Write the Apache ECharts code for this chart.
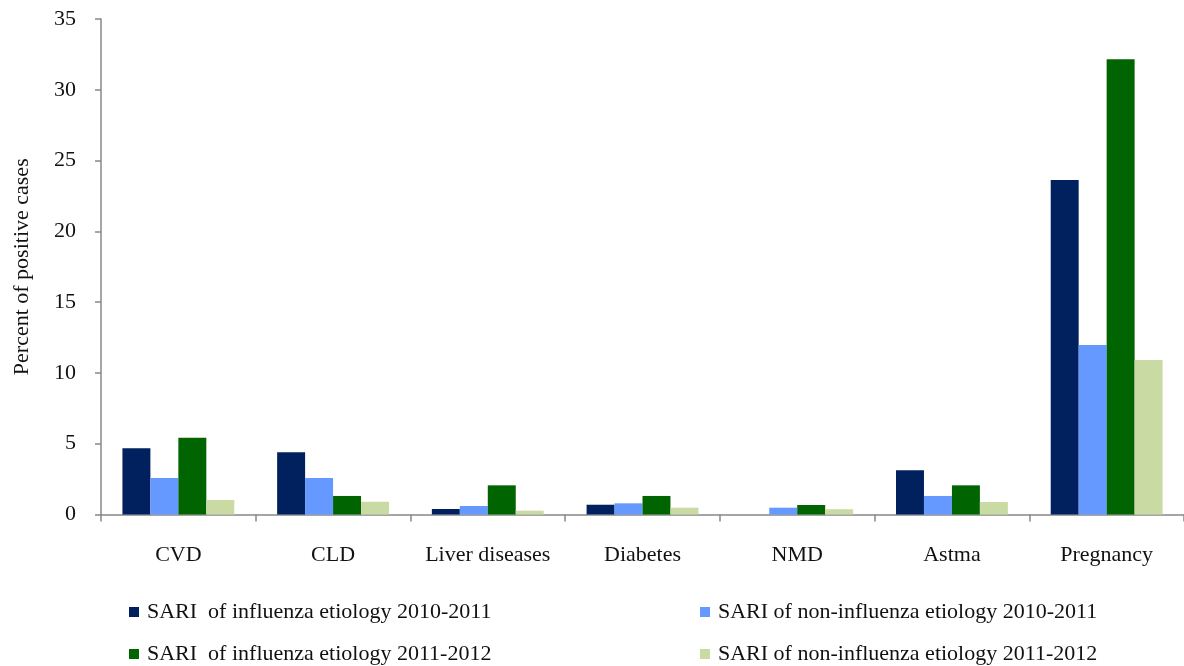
<!DOCTYPE html>
<html>
<head>
<meta charset="utf-8">
<script src="https://cdn.jsdelivr.net/npm/echarts@6/dist/echarts.min.js"></script>
<style>html,body{margin:0;padding:0;background:#fff;}#c{width:1184px;height:666px;}</style>
</head>
<body>
<div id="c"></div>
<script>
const categories = ['CVD', 'CLD', 'Liver diseases', 'Diabetes', 'NMD', 'Astma', 'Pregnancy'];
const seriesNames = [
  'SARI  of influenza etiology 2010-2011',
  'SARI of non-influenza etiology 2010-2011',
  'SARI  of influenza etiology 2011-2012',
  'SARI of non-influenza etiology 2011-2012'
];
const flu1011 = [4.68, 4.39, 0.39, 0.69, 0, 3.12, 23.63];
const nonFlu1011 = [2.58, 2.58, 0.6, 0.79, 0.48, 1.31, 11.97];
const flu1112 = [5.43, 1.31, 2.06, 1.31, 0.67, 2.06, 32.15];
const nonFlu1112 = [1.02, 0.9, 0.27, 0.48, 0.37, 0.88, 10.91];
const yTicks = [0, 5, 10, 15, 20, 25, 30, 35];
const colors = ['#00205E', '#6699FF', '#006400', '#C9DAA3'];

const font = 'Liberation Serif, Times New Roman, serif';
const chart = echarts.init(document.getElementById('c'));
const values = [flu1011, nonFlu1011, flu1112, nonFlu1112];
const legendPos = [[124, 596], [695, 596], [124, 638], [695, 638]];
chart.setOption({
  animation: false,
  color: colors,
  grid: { left: 101, top: 19, width: 1085, bottom: 151.5, containLabel: false },
  legend: seriesNames.map((n, i) => ({
    orient: 'horizontal', left: legendPos[i][0], top: legendPos[i][1],
    itemWidth: 10, itemHeight: 10, icon: 'rect', data: [n],
    textStyle: { fontFamily: font, fontSize: 22, color: '#111', padding: [0, 0, 0, 3] }
  })),
  xAxis: {
    type: 'category', data: categories,
    axisLine: { lineStyle: { color: '#888', width: 1.5 } },
    axisTick: { show: true, length: 7, lineStyle: { color: '#888', width: 1.5 } },
    axisLabel: { interval: 0, fontFamily: font, fontSize: 22, color: '#111', margin: 30 }
  },
  yAxis: {
    type: 'value', min: yTicks[0], max: yTicks[yTicks.length - 1], interval: 5,
    name: 'Percent of positive cases', nameLocation: 'middle', nameGap: 68, nameRotate: 90,
    nameTextStyle: { fontFamily: font, fontSize: 22, color: '#111' },
    axisLine: { show: true, lineStyle: { color: '#888', width: 1.5 } },
    axisTick: { show: true, length: 6, lineStyle: { color: '#888', width: 1.5 } },
    splitLine: { show: false },
    axisLabel: { fontFamily: font, fontSize: 22, color: '#111', margin: 25 }
  },
  series: values.map((v, i) => ({
    name: seriesNames[i], type: 'bar', data: v,
    barGap: '0%', barCategoryGap: '27.7%'
  }))
});
</script>
</body>
</html>
